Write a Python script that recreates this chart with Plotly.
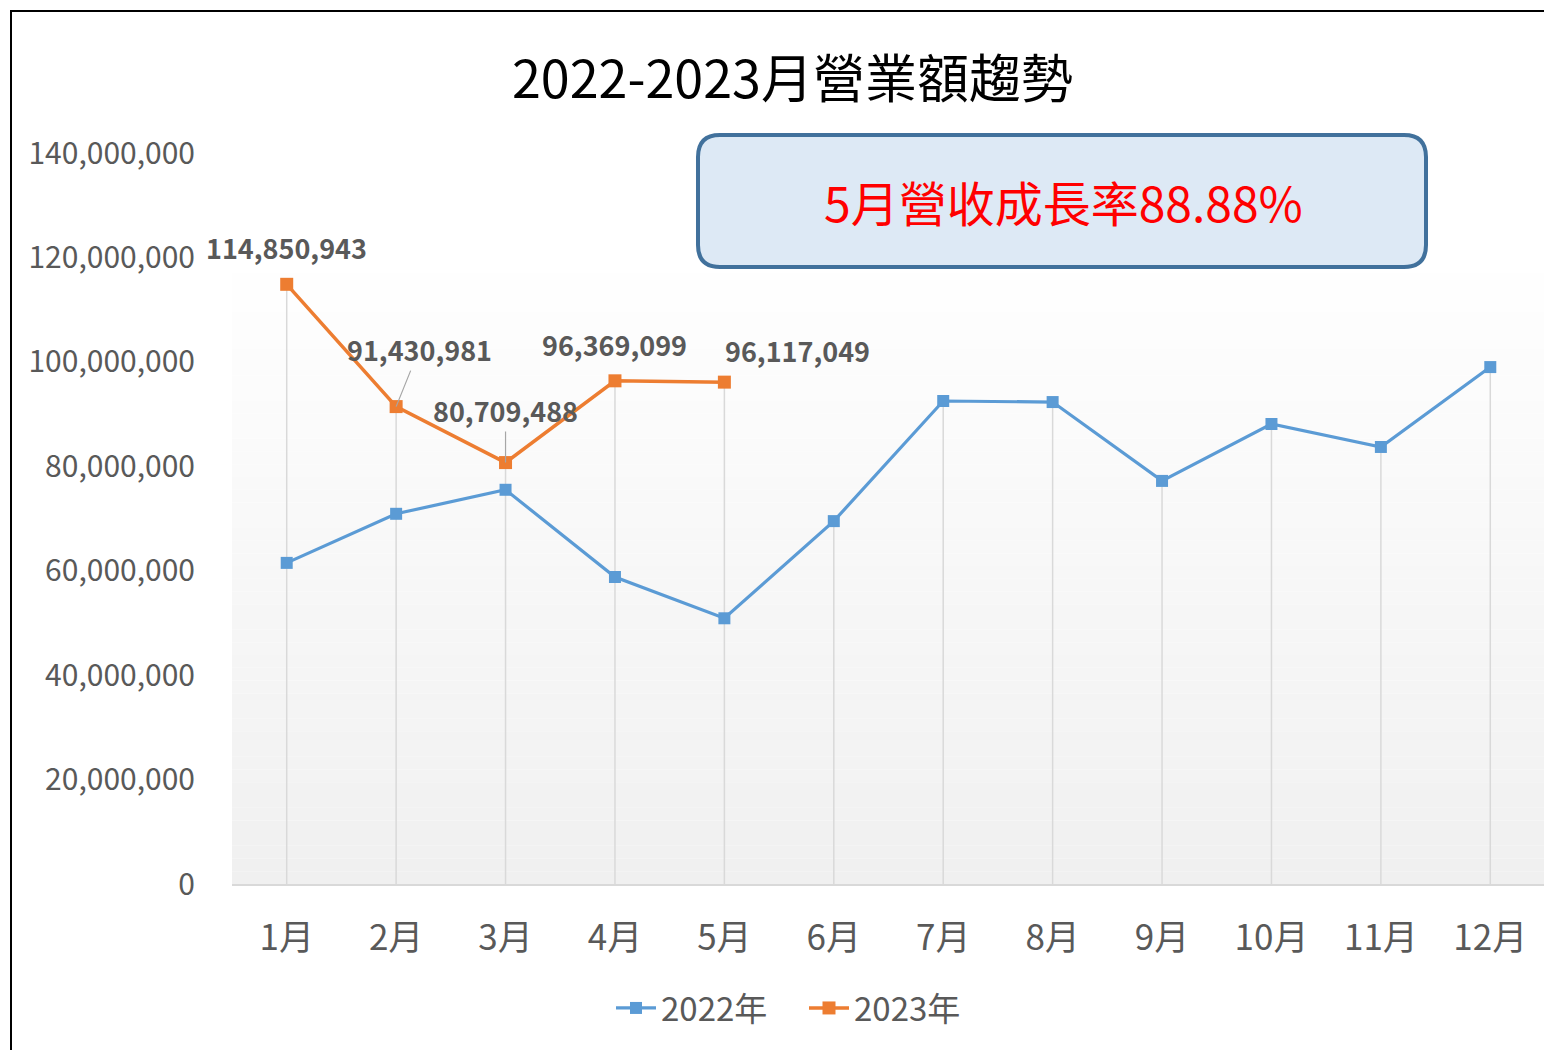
import plotly.graph_objects as go

months = ["1月", "2月", "3月", "4月", "5月", "6月", "7月", "8月", "9月", "10月", "11月", "12月"]
sales_2022 = [61500000, 70900000, 75500000, 58800000, 50890000, 69500000,
              92500000, 92300000, 77200000, 88100000, 83700000, 99000000]
sales_2023 = [114850943, 91430981, 80709488, 96369099, 96117049]
y_ticks = [0, 20000000, 40000000, 60000000, 80000000, 100000000, 120000000, 140000000]
title_text = "2022-2023月營業額趨勢"
callout_text = "5月營收成長率88.88%"
series_names = ["2022年", "2023年"]

OFF = 8  # page body margin
W, H = 1552 - OFF, 1050 - OFF
L, R, T, B = 232, 1545, 153, 884  # page pixel coords of plot area
FONT = "Noto Sans CJK TC"
GRAY = "#595959"
BLUE = "#5b9bd5"
ORANGE = "#ed7d31"


def px_x(px):
    return (px - L) / (R - L)


def px_y(py):
    return (B - py) / (B - T)


fig = go.Figure()

# drop lines from highest value of each month to axis
drop_x, drop_y = [], []
for i, m in enumerate(months):
    vals = [sales_2022[i]] + ([sales_2023[i]] if i < len(sales_2023) else [])
    drop_x += [m, m, None]
    drop_y += [0, max(vals), None]
fig.add_trace(go.Scatter(x=drop_x, y=drop_y, mode="lines",
                         line=dict(color="#d9d9d9", width=1.5),
                         showlegend=False, hoverinfo="skip"))

fig.add_trace(go.Scatter(x=months, y=sales_2022, mode="lines+markers", name=series_names[0],
                         line=dict(color=BLUE, width=3.2),
                         marker=dict(symbol="square", size=12, color=BLUE)))
fig.add_trace(go.Scatter(x=months[:len(sales_2023)], y=sales_2023, mode="lines+markers",
                         name=series_names[1],
                         line=dict(color=ORANGE, width=3.5),
                         marker=dict(symbol="square", size=13, color=ORANGE)))

# data labels for 2023
label_cfg = [
    dict(showarrow=False, xshift=0, yshift=37),
    dict(showarrow=True, ax=23, ay=-57),
    dict(showarrow=True, ax=0, ay=-52),
    dict(showarrow=False, xshift=0, yshift=36),
    dict(showarrow=False, xshift=73, yshift=32),
]
for i, v in enumerate(sales_2023):
    cfg = label_cfg[i]
    ann = dict(x=months[i], y=v, xref="x", yref="y", text=f"<b>{v:,}</b>",
               font=dict(family=FONT, size=27, color=GRAY))
    if cfg["showarrow"]:
        ann.update(showarrow=True, ax=cfg["ax"], ay=cfg["ay"], arrowhead=0,
                   arrowwidth=1.2, arrowcolor="#a6a6a6", standoff=0)
    else:
        ann.update(showarrow=False, xshift=cfg["xshift"], yshift=cfg["yshift"])
    fig.add_annotation(**ann)

shapes = []
# outer border
shapes.append(dict(type="rect", xref="paper", yref="paper",
                   x0=px_x(11), x1=px_x(1600), y0=px_y(11), y1=px_y(1100),
                   line=dict(color="black", width=2), fillcolor="rgba(0,0,0,0)", layer="below"))
# gradient plot background
g_top, g_bot = 248, B
n = 50
for k in range(n):
    y0 = g_top + (g_bot - g_top) * k / n
    y1 = g_top + (g_bot - g_top) * (k + 1) / n
    t = (k + 0.5) / n
    c = int(round(255 - (255 - 240) * t))
    shapes.append(dict(type="rect", xref="paper", yref="paper",
                       x0=0, x1=1, y0=px_y(y1), y1=px_y(y0),
                       fillcolor=f"rgb({c},{c},{c})", line=dict(width=0), layer="below"))

# rounded callout box
bx0, bx1, by0, by1, r = 698, 1426, 135, 267, 22


def P(x, y):
    return f"{px_x(x):.5f},{px_y(y):.5f}"


path = (f"M {P(bx0 + r, by0)} L {P(bx1 - r, by0)} Q {P(bx1, by0)} {P(bx1, by0 + r)} "
        f"L {P(bx1, by1 - r)} Q {P(bx1, by1)} {P(bx1 - r, by1)} "
        f"L {P(bx0 + r, by1)} Q {P(bx0, by1)} {P(bx0, by1 - r)} "
        f"L {P(bx0, by0 + r)} Q {P(bx0, by0)} {P(bx0 + r, by0)} Z")
shapes.append(dict(type="path", xref="paper", yref="paper", path=path,
                   fillcolor="#dde9f5", line=dict(color="#41719c", width=4), layer="above"))

fig.add_annotation(x=px_x(1063), y=px_y(201), xref="paper", yref="paper",
                   xanchor="center", yanchor="middle",
                   text=callout_text, showarrow=False,
                   font=dict(family=FONT, size=48, color="#ff0000"))

fig.add_annotation(x=px_x(792), y=px_y(76), xref="paper", yref="paper",
                   xanchor="center", yanchor="middle",
                   text=title_text, showarrow=False,
                   font=dict(family=FONT, size=52, color="black"))

fig.update_layout(
    width=W, height=H,
    margin=dict(l=L - OFF, r=1552 - R, t=T - OFF, b=1050 - B),
    paper_bgcolor="white", plot_bgcolor="rgba(0,0,0,0)",
    shapes=shapes,
    showlegend=True,
    legend=dict(orientation="h", x=px_x(611), y=px_y(1008), xanchor="left", yanchor="middle",
                font=dict(family=FONT, size=33, color=GRAY), itemwidth=40,
                entrywidth=138, entrywidthmode="pixels",
                bgcolor="rgba(0,0,0,0)"),
    xaxis=dict(type="category", range=[-0.5, 11.5], showgrid=False, zeroline=False,
               showline=True, linecolor="#d9d9d9", linewidth=2, ticks="",
               tickfont=dict(family=FONT, size=35, color=GRAY), ticklabelstandoff=22),
    yaxis=dict(range=[0, 140000000], tickvals=y_ticks, tickformat=",d",
               showgrid=False, zeroline=False, showline=False, ticks="",
               tickfont=dict(family=FONT, size=30, color=GRAY), ticklabelstandoff=36),
    hovermode=False,
)

fig.write_html("out.html")
